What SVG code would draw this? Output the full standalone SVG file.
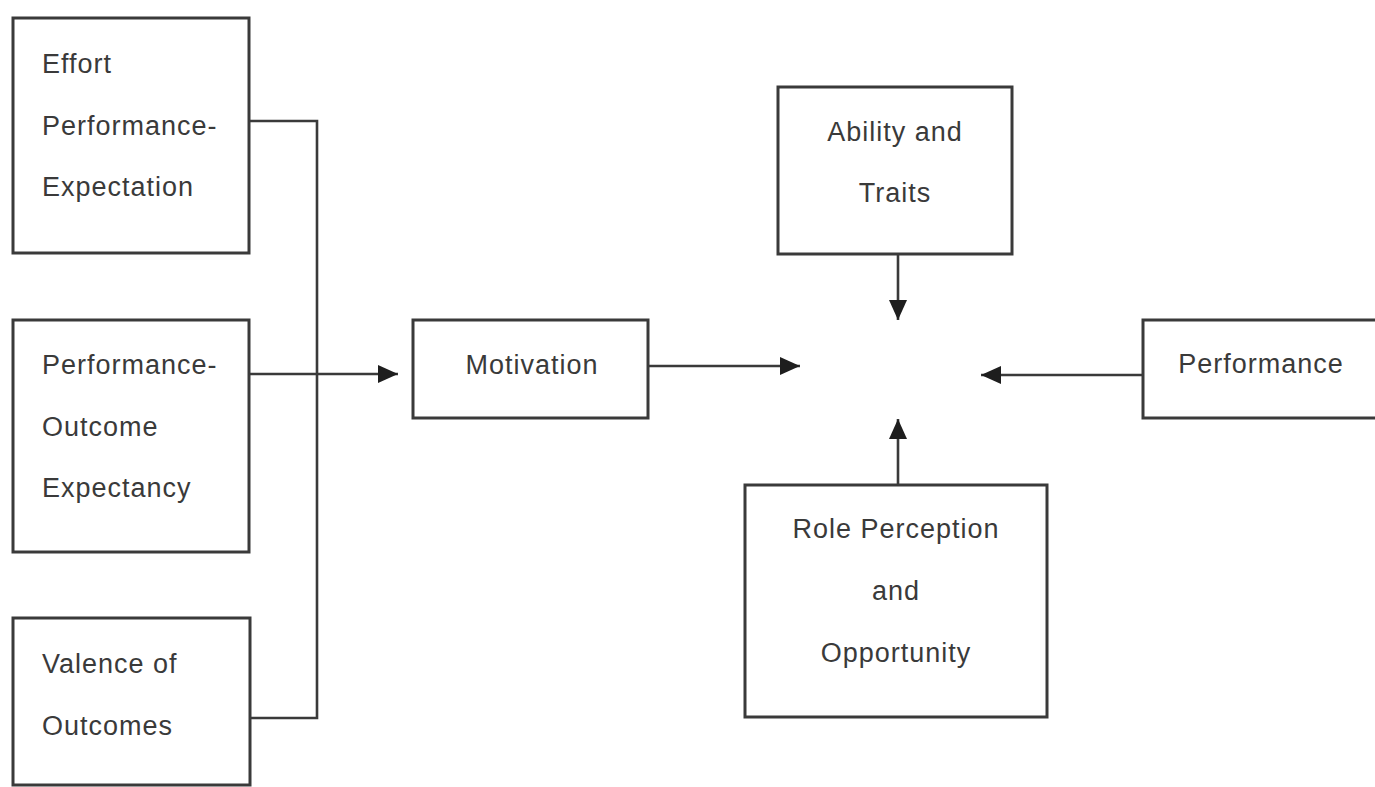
<svg xmlns="http://www.w3.org/2000/svg" width="1375" height="787" viewBox="0 0 1375 787">
<style>
.box{fill:#fff;stroke:#3a3a3a;stroke-width:3}
.t{font-family:"Liberation Sans",Arial,sans-serif;font-size:27px;fill:#3a3a3a;letter-spacing:1px}
.c{text-anchor:middle}
.ln{fill:none;stroke:#3a3a3a;stroke-width:2.6}
</style>
<defs>
<marker id="a" viewBox="0 0 20 20" refX="20" refY="10" markerWidth="20" markerHeight="20" markerUnits="userSpaceOnUse" orient="auto">
<path d="M0,1 L20,10 L0,19 z" fill="#1e1e1e"/>
</marker>
</defs>
<rect width="1375" height="787" fill="#fff"/>
<g id="connectors">
<path class="ln" d="M249,121 H317 V718 H250"/>
<path class="ln" d="M249,374 H398" marker-end="url(#a)"/>
<path class="ln" d="M648,366 H800" marker-end="url(#a)"/>
<path class="ln" d="M898,254 V320" marker-end="url(#a)"/>
<path class="ln" d="M1143,375 H981" marker-end="url(#a)"/>
<path class="ln" d="M898,485 V419" marker-end="url(#a)"/>
</g>
<g id="effort">
<rect class="box" x="13" y="18" width="236" height="235"/>
<text class="t" x="42" y="73">Effort</text>
<text class="t" x="42" y="135">Performance-</text>
<text class="t" x="42" y="196">Expectation</text>
</g>
<g id="outcome">
<rect class="box" x="13" y="320" width="236" height="232"/>
<text class="t" x="42" y="374">Performance-</text>
<text class="t" x="42" y="436">Outcome</text>
<text class="t" x="42" y="497">Expectancy</text>
</g>
<g id="valence">
<rect class="box" x="13" y="618" width="237" height="167"/>
<text class="t" x="42" y="673">Valence of</text>
<text class="t" x="42" y="735">Outcomes</text>
</g>
<g id="motivation">
<rect class="box" x="413" y="320" width="235" height="98"/>
<text class="t c" x="532" y="374">Motivation</text>
</g>
<g id="ability">
<rect class="box" x="778" y="87" width="234" height="167"/>
<text class="t c" x="895" y="141">Ability and</text>
<text class="t c" x="895" y="202">Traits</text>
</g>
<g id="performance">
<rect class="box" x="1143" y="320" width="240" height="98"/>
<text class="t c" x="1261" y="373">Performance</text>
</g>
<g id="role">
<rect class="box" x="745" y="485" width="302" height="232"/>
<text class="t c" x="896" y="538">Role Perception</text>
<text class="t c" x="896" y="600">and</text>
<text class="t c" x="896" y="662">Opportunity</text>
</g>
</svg>
